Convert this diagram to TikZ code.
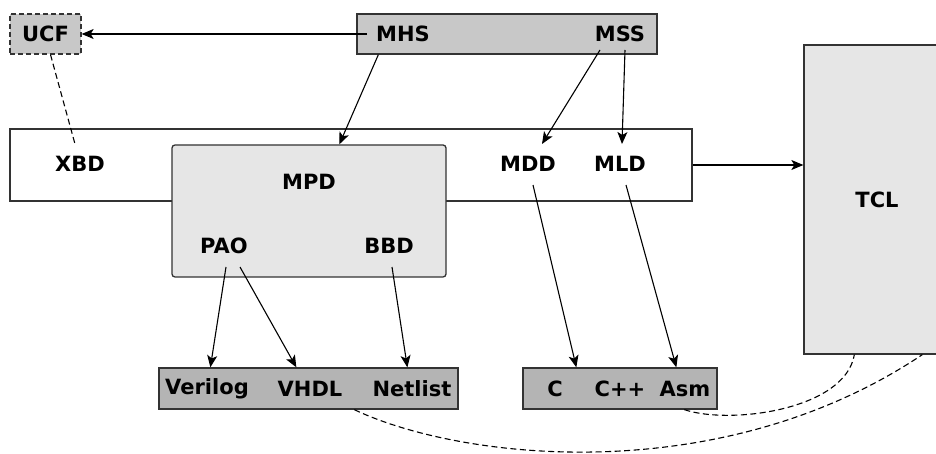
\documentclass[tikz,border=0pt]{standalone}
\usepackage{fontspec}
\setmainfont{DejaVu Sans}
\usetikzlibrary{arrows.meta,calc}
\definecolor{boxdark}{HTML}{C8C8C8}
\definecolor{boxmid}{HTML}{B4B4B4}
\definecolor{boxlight}{HTML}{E6E6E6}
\definecolor{edge}{HTML}{333333}
\begin{document}
\begin{tikzpicture}[x=1pt,y=-1pt,
  every node/.style={font=\fontsize{21}{25}\selectfont\bfseries, inner sep=0pt},
  frame/.style={draw=edge, line width=1.3pt, minimum width=#1},
  lbl/.style={text=black},
  arr/.style={-{Stealth[length=12pt,width=10pt,inset=3pt]}, line width=1.1pt, black},
  dsh/.style={dashed, dash pattern=on 6pt off 3.5pt, line width=1.1pt, black}]
\useasboundingbox (0,0) rectangle (936,454);
% boxes
\node[frame=71, minimum height=40, fill=boxdark, dashed, dash pattern=on 5pt off 3pt] (ucf) at (45.5,34) {UCF};
\node[frame=300, minimum height=40, fill=boxdark] (mhsbox) at (507,34) {};
\node[frame=682, minimum height=72, fill=white] (big) at (351,165) {};
\node[frame=274, minimum height=132, fill=boxlight, rounded corners=3pt] (mpd) at (309,211) {};
\node[frame=146, minimum height=309, fill=boxlight] (tcl) at (877,199.5) {};
\node[frame=299, minimum height=41, fill=boxmid] (verbox) at (308.5,388.5) {};
\node[frame=194, minimum height=41, fill=boxmid] (cbox) at (620,388.5) {};
% labels
\node[lbl] (mhs) at (403,34) {MHS};
\node[lbl] (mss) at (620,34) {MSS};
\node[lbl] (xbd) at (80,164) {XBD};
\node[lbl] (mpdt) at (309,182) {MPD};
\node[lbl] (pao) at (224,246) {PAO};
\node[lbl] (bbd) at (389,246) {BBD};
\node[lbl] (mdd) at (528,164) {MDD};
\node[lbl] (mld) at (620,164) {MLD};
\node[lbl] (tclt) at (877,200) {TCL};
\node[lbl] (verilog) at (207,389) {Verilog};
\node[lbl] (vhdl) at (310,389) {VHDL};
\node[lbl] (netlist) at (412,389) {Netlist};
\node[lbl] (c) at (555,389) {C};
\node[lbl] (cpp) at (620,389) {C++};
\node[lbl] (asm) at (685,389) {Asm};
% connectors
\draw[arr] ($(mhs.west)+(-9,0)$) -- (ucf.east);
\draw[arr] ($(mhsbox.south west)+(22,0)$) -- ($(mpd.north west)+(168,0)$);
\draw[arr] ($(mss)+(-20,16)$) -- ($(mdd)+(14,-20)$);
\draw[arr] ($(mss)+(5,16)$) -- ($(mld)+(2,-20)$);
\draw[arr] (big.east) -- (big.east -| tcl.west);
\draw[arr] ($(mdd)+(5,21)$) -- ($(cbox.north west)+(54,0)$);
\draw[arr] ($(mld)+(6,21)$) -- ($(cbox.north west)+(154,0)$);
\draw[arr] ($(pao)+(2,21)$) -- ($(verbox.north west)+(52,0)$);
\draw[arr] ($(pao)+(16,21)$) -- ($(verbox.north west)+(138,0)$);
\draw[arr] ($(bbd)+(3,21)$) -- ($(verbox.north west)+(249,0)$);
\draw[dsh] ($(ucf.south)+(5,0)$) -- ($(xbd)+(-5,-20)$);
\draw[dsh] ($(cbox.south west)+(162,0)$) .. controls (730,425) and (845,410) .. ($(tcl.south west)+(51,0)$);
\draw[dsh] ($(verbox.south west)+(196,0)$) .. controls (460,460) and (720,490) .. ($(tcl.south west)+(119,0)$);
\end{tikzpicture}
\end{document}
